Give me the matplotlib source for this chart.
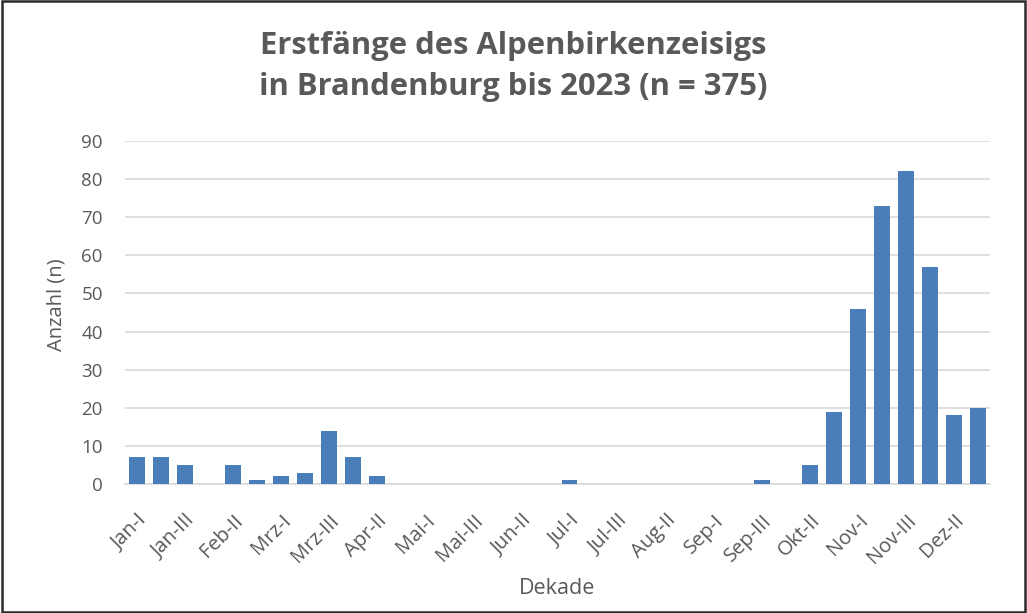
import matplotlib
matplotlib.use("Agg")
import matplotlib.pyplot as plt
from matplotlib.patches import Rectangle

plt.rcParams['font.family'] = ['Open Sans', 'DejaVu Sans']

months = ["Jan", "Feb", "Mrz", "Apr", "Mai", "Jun", "Jul", "Aug", "Sep", "Okt", "Nov", "Dez"]
parts = ["I", "II", "III"]
categories = [f"{m}-{p}" for m in months for p in parts]
values = [7, 7, 5,
          0, 5, 1,
          2, 3, 14,
          7, 2, 0,
          0, 0, 0,
          0, 0, 0,
          1, 0, 0,
          0, 0, 0,
          0, 0, 1,
          0, 5, 19,
          46, 73, 82,
          57, 18, 20]
yticks = [0, 10, 20, 30, 40, 50, 60, 70, 80, 90]

title_lines = ["Erstfänge des Alpenbirkenzeisigs", "in Brandenburg bis 2023 (n = 375)"]
xlabel = "Dekade"
ylabel = "Anzahl (n)"

gray = "#595959"
fig = plt.figure(figsize=(10.27, 6.13), dpi=100)
ax = fig.add_axes([0.1217, 0.2104, 0.8423, 0.5596])

x = list(range(len(categories)))
ax.bar(x, values, width=0.66, color="#4A7EBB", zorder=3)
ax.set_xlim(-0.5, len(categories) - 0.5)
ax.set_ylim(0, 90)
ax.set_yticks(yticks)
ax.set_yticklabels([str(v) for v in yticks], fontsize=13.5, color=gray)
ax.set_xticks(x[::2])
ax.set_xticklabels(categories[::2], rotation=45, ha="right", rotation_mode="anchor",
                   fontsize=14.5, color=gray)
ax.tick_params(axis="both", length=0)
ax.tick_params(axis="y", pad=16)
ax.tick_params(axis="x", pad=19)
ax.grid(axis="y", color="#D9D9D9", linewidth=1.2, zorder=0)
for s in ["top", "right", "left"]:
    ax.spines[s].set_visible(False)
ax.spines["bottom"].set_color("#D9D9D9")
ax.spines["bottom"].set_linewidth(1.2)

ax.set_xlabel(xlabel, fontsize=15.5, color=gray, va="center")
ax.xaxis.set_label_coords(0.5, -0.306)
ax.set_ylabel(ylabel, fontsize=14.5, color=gray, va="center")
ax.yaxis.set_label_coords(-0.0786, 0.522)

fig.text(0.5, 1 - 54 / 613, title_lines[0], ha="center", va="baseline", fontsize=22.3,
         fontweight="bold", color=gray)
fig.text(0.5, 1 - 95 / 613, title_lines[1], ha="center", va="baseline", fontsize=22.3,
         fontweight="bold", color=gray)

fig.patches.append(Rectangle((0.002, 0.002), 0.996, 0.996, transform=fig.transFigure,
                             fill=False, edgecolor="#2b2b2b", linewidth=1.8))

fig.savefig("out.png", dpi=100)
